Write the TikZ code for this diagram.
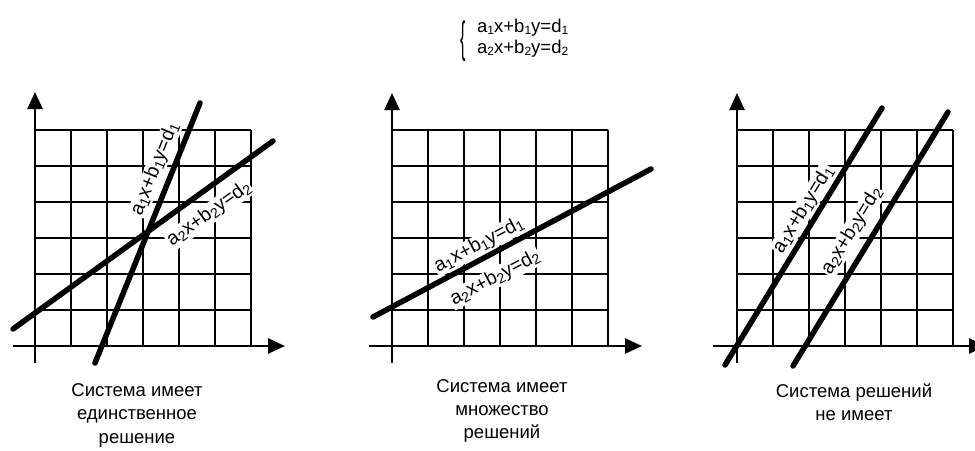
\documentclass[tikz,border=0pt]{standalone}
\usepackage{fontspec}
\setmainfont{Liberation Sans}
\usetikzlibrary{arrows.meta}
\newcommand{\subs}[1]{\raisebox{-0.12em}{\scalebox{0.65}{#1}}}
\newcommand{\lsubs}[1]{\raisebox{-0.15em}{\scalebox{0.72}{#1}}}
\newcommand{\eqone}{a\subs{1}x+b\subs{1}y=d\subs{1}}
\newcommand{\eqtwo}{a\subs{2}x+b\subs{2}y=d\subs{2}}
\newcommand{\lone}{a\lsubs{1}x+b\lsubs{1}y=d\lsubs{1}}
\newcommand{\ltwo}{a\lsubs{2}x+b\lsubs{2}y=d\lsubs{2}}
\begin{document}
\begin{tikzpicture}[x=1pt,y=-1pt,
  gridline/.style={line width=1.8pt},
  axisline/.style={line width=2.6pt,-{Triangle[length=17pt,width=15pt]}},
  solline/.style={line width=5.5pt,line cap=round},
  lbl/.style={fill=white,inner sep=1pt,font=\fontsize{19.5}{22}\selectfont},
  captxt/.style={anchor=base,inner sep=0pt,font=\fontsize{18.5}{23}\selectfont},
  eqtxt/.style={anchor=base west,inner sep=0pt,font=\fontsize{18.5}{22}\selectfont}]
\useasboundingbox (0,0) rectangle (975,450);
% grids
\foreach \ox in {35,392,737}{
  \foreach \i in {0,...,6}{
    \draw[gridline] ({\ox+36*\i},130) -- ({\ox+36*\i},346);
    \draw[gridline] (\ox,{130+36*\i}) -- ({\ox+216},{130+36*\i});
  }
}
% labels (white background clears the grid)
\node[lbl,rotate=68] (p1a) at (155,169) {\lone};
\node[lbl,rotate=36] (p1b) at (209,214) {\ltwo};
\node[lbl,rotate=28] (p2a) at (479,245) {\lone};
\node[lbl,rotate=28] (p2b) at (495,278) {\ltwo};
\node[lbl,rotate=58.6] (p3a) at (803.5,209.5) {\lone};
\node[lbl,rotate=58.6] (p3b) at (852,231) {\ltwo};
% solution lines
\draw[solline] (95,363) -- (200,103);
\draw[solline] (13,329) -- (273,141);
\draw[solline] (373,317) -- (651,169);
\draw[solline] (725,365) -- (882,108);
\draw[solline] (793,366) -- (948,112);
% axes
\draw[axisline] (35,363) -- (35,92);
\draw[axisline] (13,346) -- (285,346);
\draw[axisline] (392,363) -- (392,93);
\draw[axisline] (369,346) -- (642,346);
\draw[axisline] (737,363) -- (737,93);
\draw[axisline] (713,346) -- (986,346);
% system of equations
\node[inner sep=0pt] (brace) at (463,41) {\scalebox{0.85}[2.3]{\fontsize{19}{19}\selectfont\{}};
\node[eqtxt] (eq1) at (477,32) {\eqone};
\node[eqtxt] (eq2) at (477,53) {\eqtwo};
% captions
\node[captxt] (c1a) at (137,396) {Система имеет};
\node[captxt] (c1b) at (137,419) {единственное};
\node[captxt] (c1c) at (137,443) {решение};
\node[captxt] (c2a) at (502,392) {Система имеет};
\node[captxt] (c2b) at (502,415) {множество};
\node[captxt] (c2c) at (502,438) {решений};
\node[captxt] (c3a) at (854,397) {Система решений};
\node[captxt] (c3b) at (854,420) {не имеет};
\end{tikzpicture}
\end{document}
